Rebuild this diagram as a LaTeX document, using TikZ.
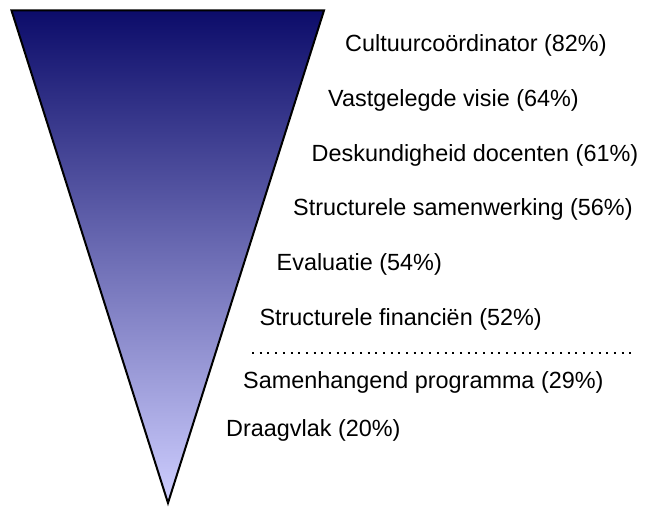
\documentclass[tikz,border=0pt]{standalone}
\usepackage{fontspec}
\setmainfont{Liberation Sans}
\definecolor{funneltop}{RGB}{12,12,106}
\definecolor{funnelbot}{RGB}{206,206,255}
\begin{document}
\begin{tikzpicture}[x=1pt,y=-1pt,
  lbl/.style={anchor=base west,inner sep=0pt,font=\fontsize{23.4}{28}\selectfont},
  funnel/.style={draw=black,line width=2pt,line join=miter,top color=funneltop,bottom color=funnelbot}]
\useasboundingbox (0,0) rectangle (646,508);
\coordinate (tl) at (11.5,10.5);
\coordinate (tr) at (324,10.5);
\coordinate (ap) at (168,503);
\path[funnel] (tl) -- (tr) -- (ap) -- cycle;
\node[lbl] (l1) at (345,51.7) {Cultuurcoördinator (82\%)};
\node[lbl] (l2) at (328,106.7) {Vastgelegde visie (64\%)};
\node[lbl] (l3) at (311.5,161.7) {Deskundigheid docenten (61\%)};
\node[lbl] (l4) at (293,215.5) {Structurele samenwerking (56\%)};
\node[lbl] (l5) at (276.5,270.7) {Evaluatie (54\%)};
\node[lbl] (l6) at (259.3,325) {Structurele financiën (52\%)};
\node[lbl] (l7) at (243,388.3) {Samenhangend programma (29\%)};
\node[lbl] (l8) at (226,436.7) {Draagvlak (20\%)};
\coordinate (d1) at (252,353.3);
\coordinate (d2) at (633,353.3);
\draw[line width=2pt,dash pattern=on 2pt off 5.7pt] (d1) -- (d2);
\end{tikzpicture}
\end{document}
